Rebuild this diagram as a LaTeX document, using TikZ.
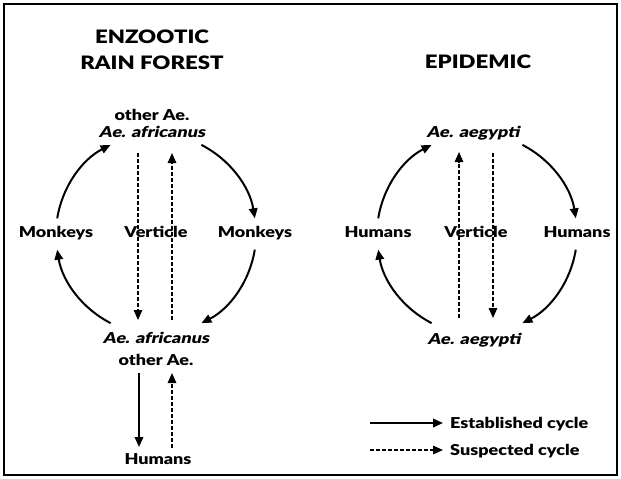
\documentclass[tikz,border=0pt]{standalone}
\usepackage{fontspec}
\usetikzlibrary{arrows.meta}
\newfontfamily\hb{Lato}[UprightFont={* Black}, FakeStretch=1.2]
\newfontfamily\hbi{Lato}[UprightFont={* Black}, FakeStretch=1.2, FakeSlant=0.22]
\begin{document}
\begin{tikzpicture}[x=1pt,y=1pt,
  lbl/.style={font=\hb\fontsize{15}{17}\selectfont, inner sep=0pt, anchor=base},
  ilbl/.style={font=\hbi\fontsize{15}{17}\selectfont, inner sep=0pt, anchor=base},
  head/.style={font=\hb\fontsize{18.5}{21}\selectfont, inner sep=0pt, anchor=base},
  tip/.style={-{Triangle[length=10pt,width=8.5pt]}},
  estab/.style={tip, line width=2pt},
  susp/.style={tip, line width=1.5pt, dash pattern=on 4pt off 2pt}]
\useasboundingbox (0,0) rectangle (621,-479);
\draw[line width=2pt] (4,-4) rectangle (617,-475);

% headings
\node[head] (h1) at (152,-43) {ENZOOTIC};
\node[head] (h2) at (152,-69) {RAIN FOREST};
\node[head] (h3) at (478,-68) {EPIDEMIC};

% left cycle
\coordinate (cL) at (156,-234);
\node[lbl]  (otherT) at (152,-120) {other Ae.};
\node[ilbl] (afrT)   at (152,-137) {Ae. africanus};
\node[lbl]  (monkL)  at (56,-237) {Monkeys};
\node[lbl]  (vertL)  at (156,-237) {Verticle};
\node[lbl]  (monkR)  at (255,-237) {Monkeys};
\node[ilbl] (afrB)   at (156,-343) {Ae. africanus};
\node[lbl]  (otherB) at (156,-365) {other Ae.};
\node[lbl]  (humB)   at (158,-464) {Humans};

\draw[estab] ([shift={(171:100)}]cL) arc[start angle=171, end angle=117, radius=100];
\draw[estab] ([shift={(63:100)}]cL) arc[start angle=63, end angle=9, radius=100];
\draw[estab] ([shift={(-9:100)}]cL) arc[start angle=-9, end angle=-63, radius=100];
\draw[estab] ([shift={(-117:100)}]cL) arc[start angle=-117, end angle=-171, radius=100];

\coordinate (lv1a) at (138,-153); \coordinate (lv1b) at (138,-320);
\coordinate (lv2a) at (172,-320); \coordinate (lv2b) at (172,-153);
\draw[susp] (lv1a) -- (lv1b);
\draw[susp] (lv2a) -- (lv2b);

\coordinate (hd1a) at (139,-373); \coordinate (hd1b) at (139,-447);
\coordinate (hd2a) at (172,-448); \coordinate (hd2b) at (172,-373);
\draw[estab] (hd1a) -- (hd1b);
\draw[susp] (hd2a) -- (hd2b);

% right cycle
\coordinate (cR) at (477,-234);
\node[ilbl] (aegT)  at (473,-137) {Ae. aegypti};
\node[lbl]  (humL)  at (378,-237) {Humans};
\node[lbl]  (vertR) at (476,-237) {Verticle};
\node[lbl]  (humR)  at (577,-237) {Humans};
\node[ilbl] (aegB)  at (474,-344) {Ae. aegypti};

\draw[estab] ([shift={(171:100)}]cR) arc[start angle=171, end angle=117, radius=100];
\draw[estab] ([shift={(63:100)}]cR) arc[start angle=63, end angle=9, radius=100];
\draw[estab] ([shift={(-9:100)}]cR) arc[start angle=-9, end angle=-63, radius=100];
\draw[estab] ([shift={(-117:100)}]cR) arc[start angle=-117, end angle=-171, radius=100];

\coordinate (rv1a) at (459,-318); \coordinate (rv1b) at (459,-152);
\coordinate (rv2a) at (493,-153); \coordinate (rv2b) at (493,-318);
\draw[susp] (rv1a) -- (rv1b);
\draw[susp] (rv2a) -- (rv2b);

% legend
\coordinate (le1a) at (370,-423); \coordinate (le1b) at (443,-423);
\coordinate (le2a) at (370,-450); \coordinate (le2b) at (443,-450);
\draw[estab] (le1a) -- (le1b);
\draw[susp] (le2a) -- (le2b);
\node[lbl, anchor=base west] (legE) at (450,-428) {Established cycle};
\node[lbl, anchor=base west] (legS) at (450,-455) {Suspected cycle};
\end{tikzpicture}
\end{document}
